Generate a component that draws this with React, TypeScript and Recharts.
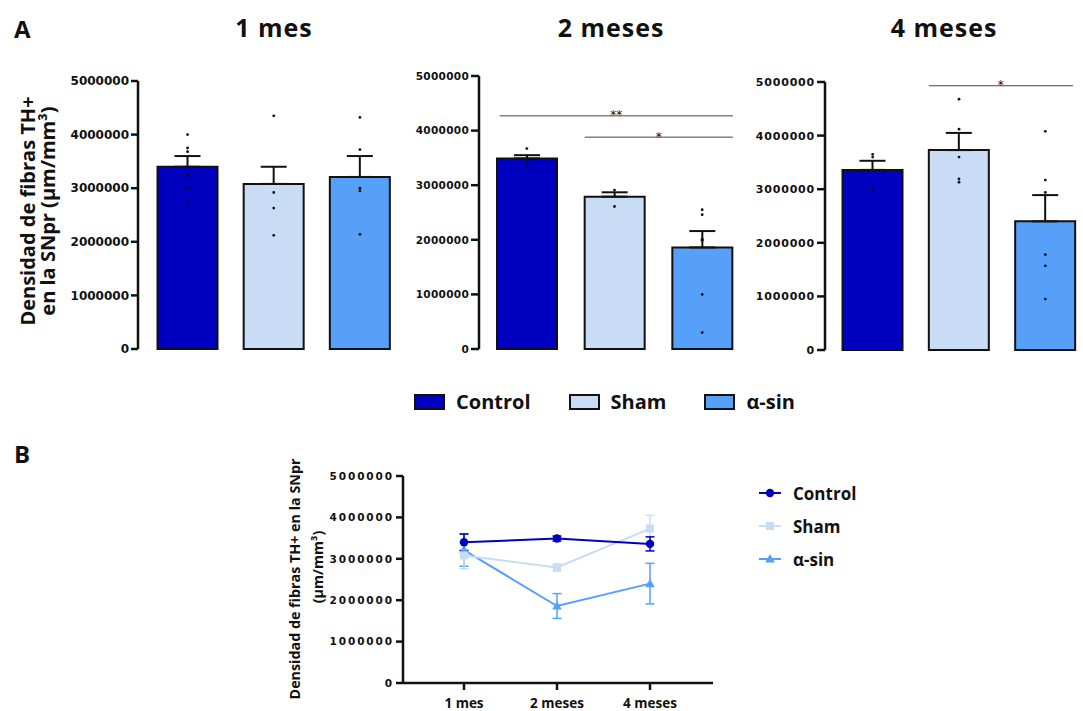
import React from 'react'
import { ComposedChart, LineChart, Bar, Cell, Line, XAxis, YAxis, ErrorBar, ReferenceLine } from 'recharts'

const groups = ['Control', 'Sham', 'α-sin']
const groupColors = ['#0000C0', '#C8DCF5', '#56A0FA']
const timepoints = ['1 mes', '2 meses', '4 meses']
const yTicks = [0, 1000000, 2000000, 3000000, 4000000, 5000000]

// mean and SEM per group (Control, Sham, α-sin)
const mean1m = [3400000, 3080000, 3210000]
const sem1m = [200000, 320000, 390000]
const mean2m = [3490000, 2790000, 1860000]
const sem2m = [60000, 80000, 300000]
const mean4m = [3360000, 3730000, 2400000]
const sem4m = [170000, 320000, 490000]

// individual animals per group
const dots1m = [
  [4000000, 3750000, 3680000, 3260000, 3000000, 2750000],
  [4350000, 2920000, 2630000, 2120000],
  [4320000, 3720000, 3000000, 2950000, 2140000],
]
const dots2m = [
  [3670000, 3480000, 3460000, 3370000],
  [2910000, 2610000],
  [2550000, 2460000, 2010000, 1990000, 1000000, 300000],
]
const dots4m = [
  [3650000, 3600000, 2990000, 2980000],
  [4680000, 4120000, 3600000, 3190000, 3130000],
  [4080000, 3170000, 2940000, 1780000, 1570000, 950000],
]

// significance brackets, x in group units (0 = left edge of first group)
type Sig = { from: number; to: number; y: number; label: string }
const sig1m: Sig[] = []
const sig2m: Sig[] = [
  { from: 0.19, to: 2.85, y: 4270000, label: '**' },
  { from: 1.16, to: 2.85, y: 3880000, label: '*' },
]
const sig4m: Sig[] = [{ from: 1.15, to: 2.82, y: 4930000, label: '*' }]

const dotKeys = ['d0', 'd1', 'd2', 'd3', 'd4', 'd5']
const seriesKeys = ['s0', 's1', 's2']
const markerShapes = ['circle', 'square', 'triangle']

function buildRows(mean: number[], sem: number[], dots: number[][]) {
  return groups.map((name, i) => {
    const row: any = { name, mean: mean[i], err: [0, sem[i]] }
    dots[i].forEach((v, j) => { row['d' + j] = v })
    return row
  })
}

const meansByTime = [mean1m, mean2m, mean4m]
const semsByTime = [sem1m, sem2m, sem4m]
const lineRows = timepoints.map((t, i) => {
  const row: any = { t }
  groups.forEach((_, g) => {
    row['s' + g] = meansByTime[i][g]
    row['e' + g] = semsByTime[i][g]
  })
  return row
})

const ink = '#111'
const uiFont = '"Open Sans", sans-serif'

// the segment runs between the centres of the first and last group; stretch it to the bracket ends
function bracket(s: Sig) {
  return (p: any) => {
    const band = (p.x2 - p.x1) / 2
    const xa = p.x1 + (s.from - 0.5) * band
    const xb = p.x1 + (s.to - 0.5) * band
    return (
      <g>
        <line x1={xa} y1={p.y1} x2={xb} y2={p.y1} stroke="#444" strokeWidth={1} />
        <text x={(xa + xb) / 2} y={p.y1 + 3.5} textAnchor="middle" fontSize={12} fill={ink}
          fontFamily="DejaVu Sans">{s.label}</text>
      </g>
    )
  }
}

function BarPanel({ rows, sig, width, height, margin, yWidth, pad, tickSize, fontSize, spacing }: any) {
  return (
    <ComposedChart width={width} height={height} data={rows} margin={margin}>
      <XAxis dataKey="name" padding={pad} tick={false} tickLine={false} height={0}
        axisLine={{ stroke: ink, strokeWidth: 2.5 }} />
      <YAxis domain={[0, 5000000]} ticks={yTicks} interval={0} width={yWidth} tickSize={tickSize}
        axisLine={{ stroke: ink, strokeWidth: 2.5 }} tickLine={{ stroke: ink, strokeWidth: 2.5 }}
        tick={{ fontFamily: 'DejaVu Sans', fontWeight: 700, fontSize, fill: ink, letterSpacing: spacing }} />
      <Bar dataKey="mean" barSize={60} stroke={ink} strokeWidth={2} isAnimationActive={false}>
        {rows.map((_: any, i: number) => <Cell key={i} fill={groupColors[i]} />)}
        <ErrorBar dataKey="err" width={13} stroke={ink} strokeWidth={2} direction="y" />
      </Bar>
      {dotKeys.map((k) => (
        <Line key={k} dataKey={k} stroke="none" legendType="none" activeDot={false}
          dot={{ r: 1.4, fill: ink, stroke: 'none' }} isAnimationActive={false} />
      ))}
      {sig.map((s: Sig, i: number) => (
        <ReferenceLine key={i} ifOverflow="visible" shape={bracket(s)}
          segment={[{ x: groups[0], y: s.y }, { x: groups[2], y: s.y }]} />
      ))}
    </ComposedChart>
  )
}

function Marker({ cx, cy, shape, color }: any) {
  if (typeof cx !== 'number' || typeof cy !== 'number') return null
  if (shape === 'circle') return <circle cx={cx} cy={cy} r={4.2} fill={color} />
  if (shape === 'square') return <rect x={cx - 4} y={cy - 4} width={8} height={8} fill={color} />
  return <polygon points={`${cx},${cy - 5} ${cx + 4.8},${cy + 3.5} ${cx - 4.8},${cy + 3.5}`} fill={color} />
}

const abs = (left: number, top: number, extra: any = {}) => ({ position: 'absolute' as const, left, top, ...extra })
const rotated = (cx: number, cy: number, size: number) => ({
  position: 'absolute' as const, left: cx, top: cy, transform: 'translate(-50%, -50%) rotate(-90deg)',
  whiteSpace: 'nowrap' as const, fontFamily: uiFont, fontWeight: 700, fontSize: size, color: ink, textAlign: 'center' as const,
})
const title = { fontFamily: uiFont, fontWeight: 700, fontSize: 25, lineHeight: '25px', color: ink, letterSpacing: 1 }

export default function App() {
  return (
    <div style={{ position: 'absolute', left: 0, top: 0, width: 1083, height: 711, overflow: 'hidden', background: '#fff' }}>
      <div style={abs(14, 16, { ...title, fontSize: 24, letterSpacing: 0 })}>A</div>
      <div style={abs(14, 441, { ...title, fontSize: 24, letterSpacing: 0 })}>B</div>

      <div style={abs(274, 15, { ...title, transform: 'translateX(-50%)' })}>1 mes</div>
      <div style={abs(611, 15, { ...title, transform: 'translateX(-50%)' })}>2 meses</div>
      <div style={abs(944, 15, { ...title, transform: 'translateX(-50%)' })}>4 meses</div>

      <div style={{ ...rotated(38, 211, 20), lineHeight: '20px' }}>
        Densidad de fibras TH+<br />en la SNpr (µm/mm³)
      </div>

      <div style={abs(60, 60)}>
        <BarPanel rows={buildRows(mean1m, sem1m, dots1m)} sig={sig1m} width={345} height={300}
          margin={{ top: 21, right: 2, bottom: 11, left: 18 }} yWidth={60} pad={{ left: 6.5, right: 0 }}
          tickSize={7} fontSize={12} spacing={0} />
      </div>
      <div style={abs(400, 60)}>
        <BarPanel rows={buildRows(mean2m, sem2m, dots2m)} sig={sig2m} width={355} height={300}
          margin={{ top: 16, right: 5, bottom: 11, left: 19 }} yWidth={60} pad={{ left: 4, right: 4 }}
          tickSize={8} fontSize={10.5} spacing={0.3} />
      </div>
      <div style={abs(745, 60)}>
        <BarPanel rows={buildRows(mean4m, sem4m, dots4m)} sig={sig4m} width={338} height={300}
          margin={{ top: 22, right: 6, bottom: 10, left: 18 }} yWidth={62} pad={{ left: 4.5, right: -11.5 }}
          tickSize={8} fontSize={11} spacing={0.8} />
      </div>

      <div style={abs(414, 390, { display: 'flex', alignItems: 'center', gap: 38 })}>
        {groups.map((g, i) => (
          <div key={g} style={{ display: 'flex', alignItems: 'center', gap: 11 }}>
            <div style={{ width: 27, height: 12, background: groupColors[i], border: `2px solid ${ink}` }} />
            <span style={{ fontFamily: uiFont, fontWeight: 700, fontSize: 20, lineHeight: '24px', color: ink }}>{g}</span>
          </div>
        ))}
      </div>

      <div style={rotated(294, 579, 14.3)}>Densidad de fibras TH+ en la SNpr</div>
      <div style={rotated(317, 567, 14.3)}>(µm/mm³)</div>

      <div style={abs(300, 440)}>
        <LineChart width={600} height={271} data={lineRows} margin={{ top: 36, right: 187, bottom: 2, left: 33 }}>
          <XAxis dataKey="t" scale="point" padding={{ left: 61, right: 63 }} height={26} tickSize={7} tickMargin={8}
            axisLine={{ stroke: ink, strokeWidth: 2.5 }} tickLine={{ stroke: ink, strokeWidth: 2.5 }}
            tick={{ fontFamily: uiFont, fontWeight: 700, fontSize: 13.5, fill: ink }} />
          <YAxis domain={[0, 5000000]} ticks={yTicks} interval={0} width={70} tickSize={7}
            axisLine={{ stroke: ink, strokeWidth: 2.5 }} tickLine={{ stroke: ink, strokeWidth: 2.5 }}
            tick={{ fontFamily: 'DejaVu Sans', fontWeight: 700, fontSize: 10.5, fill: ink, letterSpacing: 1.9 }} />
          {[2, 1, 0].map((g) => (
            <Line key={g} dataKey={seriesKeys[g]} stroke={groupColors[g]} strokeWidth={2} isAnimationActive={false}
              activeDot={false}
              dot={(p: any) => <Marker key={p.index} cx={p.cx} cy={p.cy} shape={markerShapes[g]} color={groupColors[g]} />}>
              <ErrorBar dataKey={'e' + g} width={4.5} stroke={groupColors[g]} strokeWidth={1.5} direction="y" />
            </Line>
          ))}
        </LineChart>
      </div>

      <div style={abs(759, 481, { display: 'flex', flexDirection: 'column', gap: 9 })}>
        {groups.map((g, i) => (
          <div key={g} style={{ display: 'flex', alignItems: 'center', height: 24 }}>
            <svg width={24} height={12} style={{ marginRight: 10 }}>
              <line x1={0} y1={6} x2={22} y2={6} stroke={groupColors[i]} strokeWidth={2} />
              <Marker cx={11} cy={6} shape={markerShapes[i]} color={groupColors[i]} />
            </svg>
            <span style={{ fontFamily: uiFont, fontWeight: 700, fontSize: 17, color: ink }}>{g}</span>
          </div>
        ))}
      </div>
    </div>
  )
}
